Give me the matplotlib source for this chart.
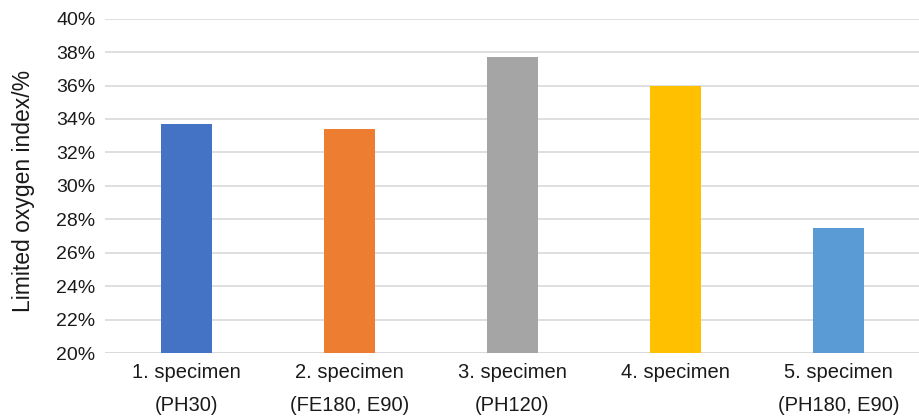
import matplotlib
matplotlib.use("Agg")
import matplotlib.pyplot as plt
from matplotlib.ticker import FuncFormatter, MultipleLocator

plt.rcParams['font.family'] = ['Liberation Sans', 'DejaVu Sans']

categories = ["1. specimen\n(PH30)", "2. specimen\n(FE180, E90)", "3. specimen\n(PH120)",
              "4. specimen", "5. specimen\n(PH180, E90)"]
loi_values = [33.7, 33.4, 37.7, 36.0, 27.5]
bar_colors = ["#4472C4", "#ED7D31", "#A5A5A5", "#FFC000", "#5B9BD5"]

fig = plt.figure(figsize=(9.2, 4.18), dpi=100)
ax = fig.add_axes([105 / 920, 1 - 353 / 418, 815 / 920, (353 - 18.7) / 418])

x = range(len(categories))
ax.bar(x, [v - 20 for v in loi_values], bottom=20, width=0.31, color=bar_colors, zorder=3)

ax.set_xlim(-0.5, len(categories) - 0.5)
ax.set_ylim(20, 40)
ax.yaxis.set_major_locator(MultipleLocator(2))
ax.yaxis.set_major_formatter(FuncFormatter(lambda v, p: f"{v:.0f}%"))
ax.grid(axis='y', color='#D9D9D9', linewidth=1.2, zorder=0)
for s in ax.spines.values():
    s.set_visible(False)
ax.axhline(20, color='#D9D9D9', linewidth=1.2, zorder=1)

ax.set_xticks(list(x))
ax.set_xticklabels(categories, fontsize=14.5, linespacing=1.95, color='#1a1a1a')
ax.tick_params(axis='both', length=0)
ax.tick_params(axis='y', labelsize=14, pad=7, labelcolor='#1a1a1a')
ax.tick_params(axis='x', pad=7)

ax.set_ylabel("Limited oxygen index/%", fontsize=16.5, color='#1a1a1a')
ax.yaxis.set_label_coords(-70 / 815, (353 - 191) / (353 - 18.7))

fig.savefig("out.png", dpi=100, facecolor='white')
